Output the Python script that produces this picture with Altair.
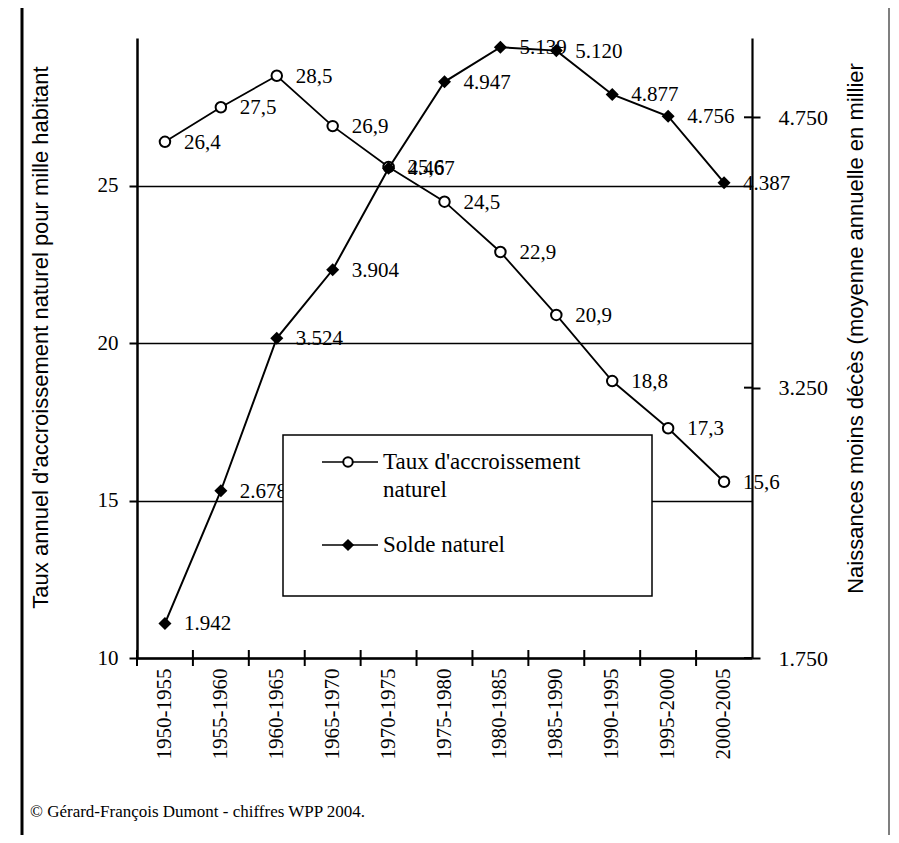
import altair as alt
import pandas as pd

periods = ["1950-1955", "1955-1960", "1960-1965", "1965-1970", "1970-1975",
           "1975-1980", "1980-1985", "1985-1990", "1990-1995", "1995-2000", "2000-2005"]
taux = [26.4, 27.5, 28.5, 26.9, 25.6, 24.5, 22.9, 20.9, 18.8, 17.3, 15.6]
solde = [1.942, 2.678, 3.524, 3.904, 4.467, 4.947, 5.139, 5.120, 4.877, 4.756, 4.387]
left_ticks = [10, 15, 20, 25]
right_ticks = [1.75, 3.25, 4.75]

left_title = "Taux annuel d'accroissement naturel pour mille habitant"
right_title = "Naissances moins décès (moyenne annuelle en millier"
legend_taux = ["Taux d'accroissement", "naturel"]
legend_solde = "Solde naturel"
source = "© Gérard-François Dumont - chiffres WPP 2004."

SERIF = "Liberation Serif"
SANS = "Liberation Sans"

df = pd.DataFrame({"period": periods, "taux": taux, "solde": solde})
dummy = pd.DataFrame({"a": [0]})

xscale = alt.Scale(type="band", paddingInner=0, paddingOuter=0)
xaxis = alt.Axis(title=None, labelAngle=270, labelAlign="right",
                 labelBaseline="middle", labelFont=SERIF, labelFontSize=21,
                 labelColor="black", labelPadding=10, ticks=False, labelLimit=300,
                 domainColor="black", domainWidth=2.5, grid=False)
x_main = alt.X("period:N", sort=periods, scale=xscale, bandPosition=0.5, axis=xaxis)

yL_scale = alt.Scale(domain=[10, 29.7], nice=False, zero=False)
yR_scale = alt.Scale(domain=[1.75, 5.19], nice=False, zero=False)

yL_axis = alt.Axis(values=left_ticks, format="d", title=left_title,
                   titleFont=SANS, titleFontSize=22, titleFontWeight="normal",
                   titleColor="black", titleX=-97, titleY=299, titleAngle=270,
                   titleAlign="center", titleBaseline="middle",
                   labelFont=SERIF, labelFontSize=21, labelColor="black",
                   labelPadding=11, tickSize=8, tickWidth=2, tickColor="black",
                   domainColor="black", domainWidth=2.5,
                   grid=True, gridColor="black", gridWidth=1.5)
yR_axis = alt.Axis(orient="right", values=right_ticks,
                   labelExpr="format(datum.value, '.3f')", title=right_title,
                   titleFont=SANS, titleFontSize=22, titleFontWeight="normal",
                   titleColor="black", titleX=103, titleY=290, titleAngle=270,
                   titleAlign="center", titleBaseline="middle",
                   labelFont=SERIF, labelFontSize=22, labelColor="black",
                   labelPadding=18, tickSize=8, tickWidth=2, tickColor="black",
                   domainColor="black", domainWidth=2.2, grid=False)
yL = alt.Y("taux:Q", scale=yL_scale, axis=yL_axis)
yR = alt.Y("solde:Q", scale=yR_scale, axis=yR_axis)

base = alt.Chart(df)

taux_line = base.mark_line(color="black", strokeWidth=1.8).encode(x=x_main, y=yL)
taux_pts = base.mark_point(shape="circle", filled=True, fill="white", stroke="black",
                           strokeWidth=2, size=110, opacity=1).encode(x=x_main, y=yL)
taux_txt = base.transform_calculate(
    lab="replace(format(datum.taux, '.1f'), '.', ',')"
).mark_text(align="left", baseline="middle", dx=19, dy=1, font=SERIF, fontSize=21,
            color="black").encode(x=x_main, y=yL, text="lab:N")
taux_layer = alt.layer(taux_line, taux_pts, taux_txt)

solde_line = base.mark_line(color="black", strokeWidth=2).encode(x=x_main, y=yR)
solde_pts = base.mark_point(shape="diamond", filled=True, color="black", size=170,
                            opacity=1).encode(x=x_main, y=yR)
solde_txt = base.transform_calculate(
    lab="format(datum.solde, '.3f')"
).mark_text(align="left", baseline="middle", dx=19, dy=1, font=SERIF, fontSize=21,
            color="black").encode(x=x_main, y=yR, text="lab:N")
solde_ticks = alt.Chart(pd.DataFrame({"solde": right_ticks})).mark_rule(
    color="black", strokeWidth=2).encode(
    y=yR, x=alt.value(607), x2=alt.value(615))
solde_layer = alt.layer(solde_line, solde_pts, solde_txt, solde_ticks)

# x-axis crossing ticks at band boundaries
xticks = alt.Chart(pd.DataFrame({"period": periods})).mark_rule(
    color="black", strokeWidth=2).encode(
    x=alt.X("period:N", sort=periods, scale=xscale, bandPosition=0, axis=xaxis),
    y=alt.value(612), y2=alt.value(628))

dc = alt.Chart(dummy)
leg_box = dc.mark_rect(fill="white", stroke="black", strokeWidth=1.5).encode(
    x=alt.value(146), x2=alt.value(515), y=alt.value(397), y2=alt.value(558))
leg_l1 = dc.mark_rule(color="black", strokeWidth=1.5).encode(
    x=alt.value(185), x2=alt.value(241), y=alt.value(424))
leg_p1 = dc.mark_point(shape="circle", filled=True, fill="white", stroke="black",
                       strokeWidth=2, size=90, opacity=1).encode(
    x=alt.value(211), y=alt.value(424))
leg_t1 = dc.mark_text(align="left", baseline="middle", font=SERIF, fontSize=23,
                      color="black", text=legend_taux[0]).encode(
    x=alt.value(246), y=alt.value(424))
leg_t1b = dc.mark_text(align="left", baseline="middle", font=SERIF, fontSize=23,
                       color="black", text=legend_taux[1]).encode(
    x=alt.value(246), y=alt.value(452))
leg_l2 = dc.mark_rule(color="black", strokeWidth=1.5).encode(
    x=alt.value(185), x2=alt.value(241), y=alt.value(507))
leg_p2 = dc.mark_point(shape="diamond", filled=True, color="black", size=150,
                       opacity=1).encode(x=alt.value(211), y=alt.value(507))
leg_t2 = dc.mark_text(align="left", baseline="middle", font=SERIF, fontSize=23,
                      color="black", text=legend_solde).encode(
    x=alt.value(246), y=alt.value(507))

src = dc.mark_text(align="left", baseline="middle", font=SERIF, fontSize=17,
                   color="black", text=source).encode(x=alt.value(-107), y=alt.value(774))
frame_l = dc.mark_rule(color="black", strokeWidth=3).encode(
    x=alt.value(-115), y=alt.value(-30), y2=alt.value(797))
frame_r = dc.mark_rule(color="#555555", strokeWidth=1.5).encode(
    x=alt.value(752), y=alt.value(-30), y2=alt.value(797))

chart = alt.layer(
    taux_layer, solde_layer, xticks,
    leg_box, leg_l1, leg_p1, leg_t1, leg_t1b, leg_l2, leg_p2, leg_t2,
    src, frame_l, frame_r
).resolve_scale(y="independent").properties(
    width=615, height=620,
    autosize=alt.AutoSizeParams(type="none"),
    padding={"left": 129, "top": 30, "right": 139, "bottom": 177},
    background="white"
).configure_view(stroke=None).configure_axisX(
    labelFont=SERIF, labelFontSize=21, labelColor="black", labelLimit=300
)

chart.save("out.html", embed_options={"renderer": "svg", "actions": False})
